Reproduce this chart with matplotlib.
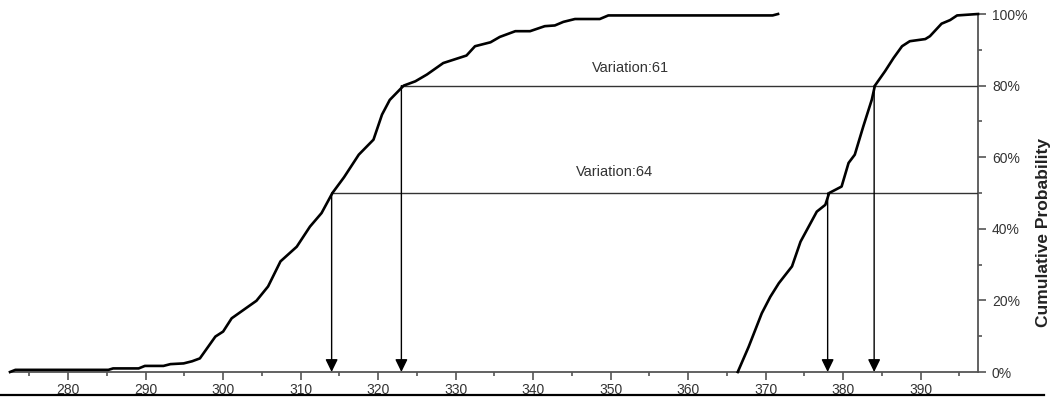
import matplotlib
matplotlib.use("Agg")
import matplotlib.pyplot as plt
from matplotlib.lines import Line2D
from matplotlib.ticker import MultipleLocator, FuncFormatter

plt.rcParams["font.family"] = ["Liberation Sans", "DejaVu Sans"]

# cumulative curve, lower-valued group (x, cumulative %)
left_x = [272.5, 273.2, 285.2, 285.8, 289.1, 289.9, 292.3, 293.2, 294.9, 296.0,
          297.0, 299.0, 300.0, 301.1, 304.3, 305.8, 307.4, 309.5, 311.2, 312.7,
          314.1, 315.6, 317.5, 319.4, 320.5, 321.5, 323.3, 324.8, 326.3, 328.4,
          331.4, 332.5, 334.5, 335.7, 337.7, 339.6, 341.5, 342.8, 343.9, 345.4,
          348.6, 349.7, 370.9, 371.6]
left_y = [0.0, 0.6, 0.6, 1.0, 1.0, 1.7, 1.7, 2.2, 2.4, 3.0,
          3.8, 9.9, 11.3, 15.0, 19.9, 23.9, 30.9, 35.0, 40.6, 44.4,
          50.0, 54.4, 60.7, 64.9, 71.9, 76.0, 80.0, 81.2, 83.1, 86.3,
          88.4, 91.0, 92.1, 93.6, 95.2, 95.2, 96.6, 96.8, 97.8, 98.6,
          98.6, 99.6, 99.6, 100.0]

# cumulative curve, higher-valued group
right_x = [366.4, 367.8, 369.5, 370.6, 371.7, 373.4, 374.5, 376.6, 377.7, 378.2,
           379.8, 380.7, 381.5, 382.6, 383.7, 384.1, 385.4, 386.5, 387.6, 388.6,
           390.6, 391.2, 392.7, 393.8, 394.7, 397.4]
right_y = [0.0, 7.0, 16.4, 21.0, 24.8, 29.5, 36.4, 44.8, 46.7, 50.0,
           51.8, 58.4, 60.7, 68.6, 76.1, 80.0, 84.0, 87.7, 91.0, 92.4,
           93.0, 93.8, 97.3, 98.3, 99.6, 100.0]

# read-off levels: (level %, x on left curve, x on right curve, label, label pos)
levels = [50, 80]
level_left = [314.0, 323.0]
level_right = [378.0, 384.0]
level_text = ["Variation:64", "Variation:61"]
text_x = [350.5, 352.5]
text_y = [56, 85]

X_MIN, X_MAX = 272.5, 397.4

fig = plt.figure(figsize=(10.55, 3.98), dpi=100)
ax = fig.add_axes([10 / 1055, 26 / 398, 968 / 1055, 358 / 398])

ax.plot(left_x, left_y, color="black", lw=1.9, clip_on=False, zorder=4)
ax.plot(right_x, right_y, color="black", lw=1.9, clip_on=False, zorder=4)

line_col = "#333333"
for lev, xl, xr, txt, tx, ty in zip(levels, level_left, level_right,
                                    level_text, text_x, text_y):
    ax.plot([xl, X_MAX], [lev, lev], color=line_col, lw=1, zorder=3)
    for xv in (xl, xr):
        ax.annotate("", xy=(xv, 0), xytext=(xv, lev),
                    arrowprops=dict(arrowstyle="-|>,head_length=0.45,head_width=0.22",
                                    color="black", lw=1, shrinkA=0, shrinkB=0,
                                    mutation_scale=17),
                    zorder=3)
    ax.text(tx, ty, txt, ha="center", va="center", fontsize=10.5, color="#333333")

ax.set_xlim(X_MIN, X_MAX)
ax.set_ylim(0, 100)

# axes styling: bottom and right spines only
for side in ("top", "left"):
    ax.spines[side].set_visible(False)
for side in ("bottom", "right"):
    ax.spines[side].set_color("#555555")
    ax.spines[side].set_linewidth(1.3)

ax.xaxis.set_major_locator(MultipleLocator(10))
ax.xaxis.set_minor_locator(MultipleLocator(5))
ax.set_xticks(range(280, 391, 10))
ax.yaxis.tick_right()
ax.yaxis.set_label_position("right")
ax.yaxis.set_major_locator(MultipleLocator(20))
ax.yaxis.set_minor_locator(MultipleLocator(10))
ax.yaxis.set_major_formatter(FuncFormatter(lambda v, p: f"{v:.0f}%"))
ax.tick_params(which="major", direction="out", length=6, width=1.2,
               color="#555555", labelsize=10, labelcolor="#333333", pad=2)
ax.tick_params(which="minor", direction="out", length=3, width=1.2,
               color="#555555")
ax.tick_params(axis="y", which="both", left=False, right=True, pad=4)

ax.text(1.068, 0.39, "Cumulative Probability", transform=ax.transAxes,
        rotation=90, ha="center", va="center", fontsize=12.5,
        fontweight="bold", color="#222222")

# dark rule along the bottom edge of the image
fig.add_artist(Line2D([0, 0.99], [3.5 / 398, 3.5 / 398],
                      transform=fig.transFigure, color="black", lw=1.6))

fig.savefig("out.png", dpi=100, facecolor="white")
